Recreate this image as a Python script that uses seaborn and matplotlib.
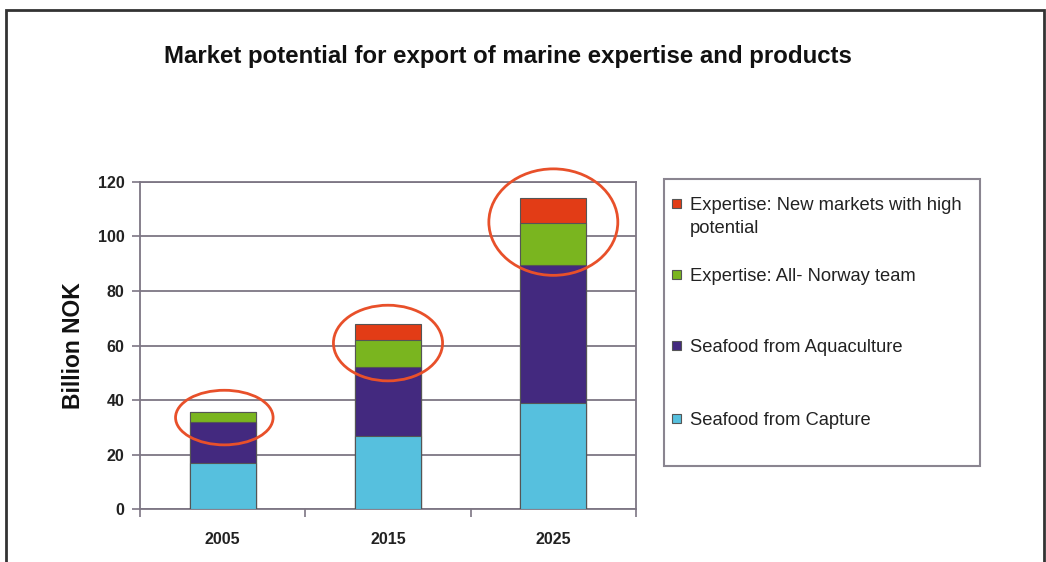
import matplotlib
matplotlib.use("Agg")
import matplotlib.pyplot as plt
from matplotlib.patches import Ellipse, Rectangle
import seaborn as sns
import numpy as np
import pandas as pd

# Data (billion NOK)
years = ["2005", "2015", "2025"]
capture = [17, 27, 39]
aquaculture = [15, 25, 50.5]
all_norway = [3.5, 10, 15.5]
new_markets = [0, 6, 9]

series_names = [
    "Seafood from Capture",
    "Seafood from Aquaculture",
    "Expertise: All- Norway team",
    "Expertise: New markets with high\npotential",
]
series_colors = ["#56C0DE", "#43297F", "#7AB51F", "#E23C16"]

sns.set_style("white")
plt.rcParams["font.family"] = ["Liberation Sans", "DejaVu Sans"]

W, H = 1046, 562
fig = plt.figure(figsize=(W / 100, H / 100), dpi=100)
ax = fig.add_axes([140 / W, 52.7 / H, 496 / W, 327.6 / H])

df = pd.DataFrame({
    "year": years,
    "capture": capture,
    "aquaculture": aquaculture,
    "all_norway": all_norway,
    "new_markets": new_markets,
})
layers = ["capture", "aquaculture", "all_norway", "new_markets"]
cum = df[layers].cumsum(axis=1).assign(year=df["year"])

# Stacked bars: draw cumulative totals from the top layer down
for col, color in zip(layers[::-1], series_colors[::-1]):
    sns.barplot(data=cum, x="year", y=col, color=color,
                width=0.4, edgecolor="#555555", linewidth=0.8, ax=ax,
                saturation=1, zorder=3)

ax.set_xlim(-0.5, 2.5)
ax.set_ylim(0, 120)
ax.set_yticks(np.arange(0, 121, 20))
grid_c = "#7d7684"
ax.yaxis.grid(True, color=grid_c, linewidth=1.3, zorder=0)
ax.set_axisbelow(True)
for s in ax.spines.values():
    s.set_visible(True)
    s.set_color(grid_c)
    s.set_linewidth(1.3)

ax.tick_params(axis="y", direction="out", length=6, width=1.2, color=grid_c,
               labelsize=11.5, pad=5, left=True)
ax.tick_params(axis="x", which="major", length=0, labelsize=11.5, pad=16)
ax.set_xticks([-0.5, 0.5, 1.5, 2.5], minor=True)
ax.tick_params(axis="x", which="minor", direction="out", length=6, width=1.2,
               color=grid_c, bottom=True)
for lab in ax.get_xticklabels() + ax.get_yticklabels():
    lab.set_fontweight("bold")
    lab.set_color("#222222")
ax.set_xlabel("")
ax.set_ylabel("Billion NOK", fontsize=16.5, fontweight="bold", labelpad=9,
              color="#111111")

# Highlight rings around the expertise segments
rings = [(0.01, 33.6, 0.59, 20), (1, 60.9, 0.66, 27.7), (2, 105.2, 0.78, 39)]
for cx, cy, w, h in rings:
    ax.add_patch(Ellipse((cx, cy), w, h, fill=False, edgecolor="#E8502A",
                         linewidth=2, clip_on=False, zorder=5))

fig.text(508 / W, 1 - 57 / H,
         "Market potential for export of marine expertise and products",
         ha="center", va="center", fontsize=17.3, fontweight="bold",
         color="#111111")

# Legend box with keys listed top layer first
fig.patches.append(Rectangle((664 / W, 1 - 466 / H), 316 / W, 287 / H,
                             transform=fig.transFigure, fill=False,
                             edgecolor="#8a8590", linewidth=1.5))
key_rows = [203, 274, 345, 418]
for row, name, color in zip(key_rows, series_names[::-1], series_colors[::-1]):
    fig.patches.append(Rectangle((672 / W, 1 - (row + 5) / H), 9 / W, 9 / H,
                                 transform=fig.transFigure, facecolor=color,
                                 edgecolor="#555555", linewidth=0.8))
    fig.text(690 / W, 1 - (row - 6) / H, name, ha="left", va="top",
             fontsize=13.2, color="#222222", linespacing=1.45)

# Outer frame
fig.patches.append(Rectangle((6 / W, -0.05), 1038 / W, 1.05 - 10 / H,
                             transform=fig.transFigure, fill=False,
                             edgecolor="#333333", linewidth=2))

fig.savefig("out.png", dpi=100)
